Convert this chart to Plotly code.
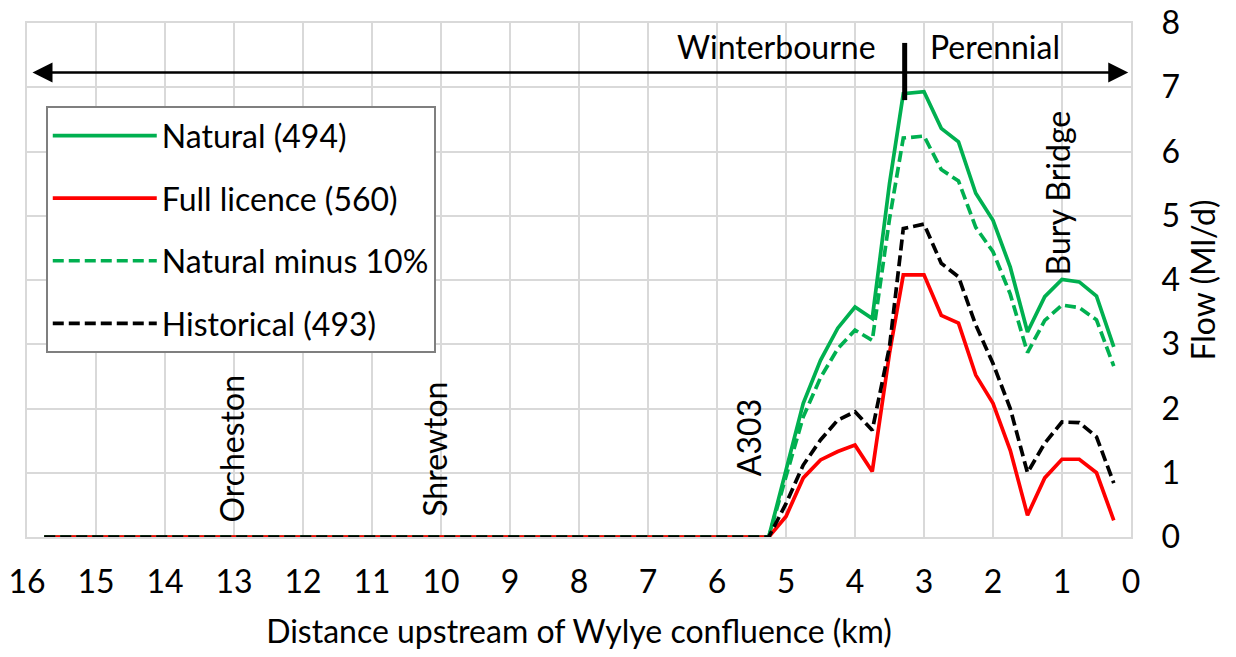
import plotly.graph_objects as go

# Distance upstream of the Wylye confluence (km)
distance_km = [
    15.75, 15.5, 15.25, 15.0, 14.75, 14.5, 14.25, 14.0, 13.75, 13.5, 13.25,
    13.0, 12.75, 12.5, 12.25, 12.0, 11.75, 11.5, 11.25, 11.0, 10.75, 10.5,
    10.25, 10.0, 9.75, 9.5, 9.25, 9.0, 8.75, 8.5, 8.25, 8.0, 7.75, 7.5,
    7.25, 7.0, 6.75, 6.5, 6.25, 6.0, 5.75, 5.5,
    5.25, 5.0, 4.75, 4.5, 4.25, 4.0, 3.75, 3.5, 3.3, 3.0, 2.75, 2.5, 2.25,
    2.0, 1.75, 1.5, 1.25, 1.0, 0.75, 0.5, 0.25,
]

# Dry upstream reach (15.75 km down to 5.5 km): no flow in any scenario
dry_reach = [0.0] * 42

# Flow (Ml/d) from 5.25 km downstream
natural_wet = [0.0, 1.04, 2.08, 2.75, 3.25, 3.58, 3.40, 5.50, 6.90, 6.93, 6.36,
               6.15, 5.35, 4.93, 4.20, 3.19, 3.74, 4.01, 3.97, 3.75, 2.96]
full_licence_wet = [0.0, 0.32, 0.92, 1.20, 1.33, 1.43, 1.02, 2.86, 4.08, 4.08,
                    3.45, 3.33, 2.52, 2.08, 1.35, 0.34, 0.92, 1.21, 1.21, 1.00, 0.26]
natural_minus10_wet = [0.0, 0.94, 1.87, 2.48, 2.93, 3.22, 3.06, 4.95, 6.21, 6.24,
                       5.72, 5.54, 4.82, 4.44, 3.78, 2.87, 3.37, 3.61, 3.57, 3.38, 2.66]
historical_wet = [0.0, 0.52, 1.12, 1.51, 1.82, 1.95, 1.66, 2.96, 4.80, 4.87,
                  4.26, 4.05, 3.30, 2.70, 2.00, 1.00, 1.46, 1.79, 1.78, 1.56, 0.84]

natural = dry_reach + natural_wet
full_licence = dry_reach + full_licence_wet
natural_minus10 = dry_reach + natural_minus10_wet
historical = dry_reach + historical_wet

series_names = ["Natural (494)", "Full licence (560)", "Natural minus 10%", "Historical (493)"]

# Place names along the river: (label, km, flow at label centre)
places = [
    ("Orcheston", 13.04, 1.38),
    ("Shrewton", 10.09, 1.37),
    ("A303", 5.54, 1.55),
    ("Bury Bridge", 1.07, 5.35),
]

# Winterbourne / perennial split
split_km = 3.28
arrow_flow = 7.23
arrow_left_km = 15.92
arrow_right_km = 0.04

FONT = "Lato"
FS = 32
GREEN = "#00b050"
RED = "#ff0000"
GRID = "#d9d9d9"

fig = go.Figure()
styles = [
    (natural, GREEN, "solid"),
    (full_licence, RED, "solid"),
    (natural_minus10, GREEN, "11px,5px"),
    (historical, "#000000", "11px,5px"),
]
for name, (vals, color, dash) in zip(series_names, styles):
    fig.add_trace(go.Scatter(
        x=distance_km, y=vals, mode="lines", name=name, legendgroup=name,
        line=dict(color=color, width=3.7, dash=dash),
    ))

annotations = []
for label, km, flow in places:
    annotations.append(dict(
        x=km, y=flow, xref="x", yref="y", text=label, showarrow=False,
        textangle=-90, xanchor="center", yanchor="middle",
        font=dict(family=FONT, size=FS, color="#000000"),
    ))
annotations.append(dict(x=5.145, y=7.63, xref="x", yref="y", text="Winterbourne",
                        showarrow=False, font=dict(family=FONT, size=FS, color="#000000")))
annotations.append(dict(x=1.97, y=7.63, xref="x", yref="y", text="Perennial",
                        showarrow=False, font=dict(family=FONT, size=FS, color="#000000")))
# Double-headed arrow drawn as two arrows leaving the split point
for tip in (arrow_left_km, arrow_right_km):
    annotations.append(dict(
        x=tip, y=arrow_flow, ax=split_km, ay=arrow_flow,
        xref="x", yref="y", axref="x", ayref="y", text="",
        showarrow=True, arrowhead=2, arrowsize=1.6, arrowwidth=2.5, arrowcolor="#000000",
    ))

fig.add_shape(type="line", x0=split_km, x1=split_km, y0=6.80, y1=7.69,
              xref="x", yref="y", line=dict(color="#000000", width=5))

fig.update_layout(
    width=1236, height=657,
    margin=dict(l=27, r=105, t=23, b=120),
    paper_bgcolor="white", plot_bgcolor="white",
    font=dict(family=FONT, size=FS, color="#000000"),
    annotations=annotations,
    showlegend=True,
    legend=dict(
        x=0.017, y=0.838, xanchor="left", yanchor="top",
        bgcolor="white", bordercolor="#7f7f7f", borderwidth=2,
        font=dict(family=FONT, size=FS), itemwidth=104, tracegroupgap=18,
    ),
    xaxis=dict(
        range=[16, 0], dtick=1, tick0=0, showgrid=True, gridcolor=GRID, gridwidth=2,
        showline=True, linecolor=GRID, linewidth=2, mirror=True, zeroline=False,
        ticks="", ticklabelstandoff=16, automargin=False,
        title=dict(text="Distance upstream of Wylye confluence (km)", standoff=21,
                   font=dict(family=FONT, size=FS)),
    ),
    yaxis=dict(
        range=[0, 8], dtick=1, side="right", showgrid=True, gridcolor=GRID, gridwidth=2,
        showline=True, linecolor=GRID, linewidth=2, mirror=True, zeroline=False,
        ticks="", ticklabelstandoff=22, automargin=False,
        title=dict(text="Flow (Ml/d)", standoff=14, font=dict(family=FONT, size=FS)),
    ),
)

fig.write_html("out.html")
